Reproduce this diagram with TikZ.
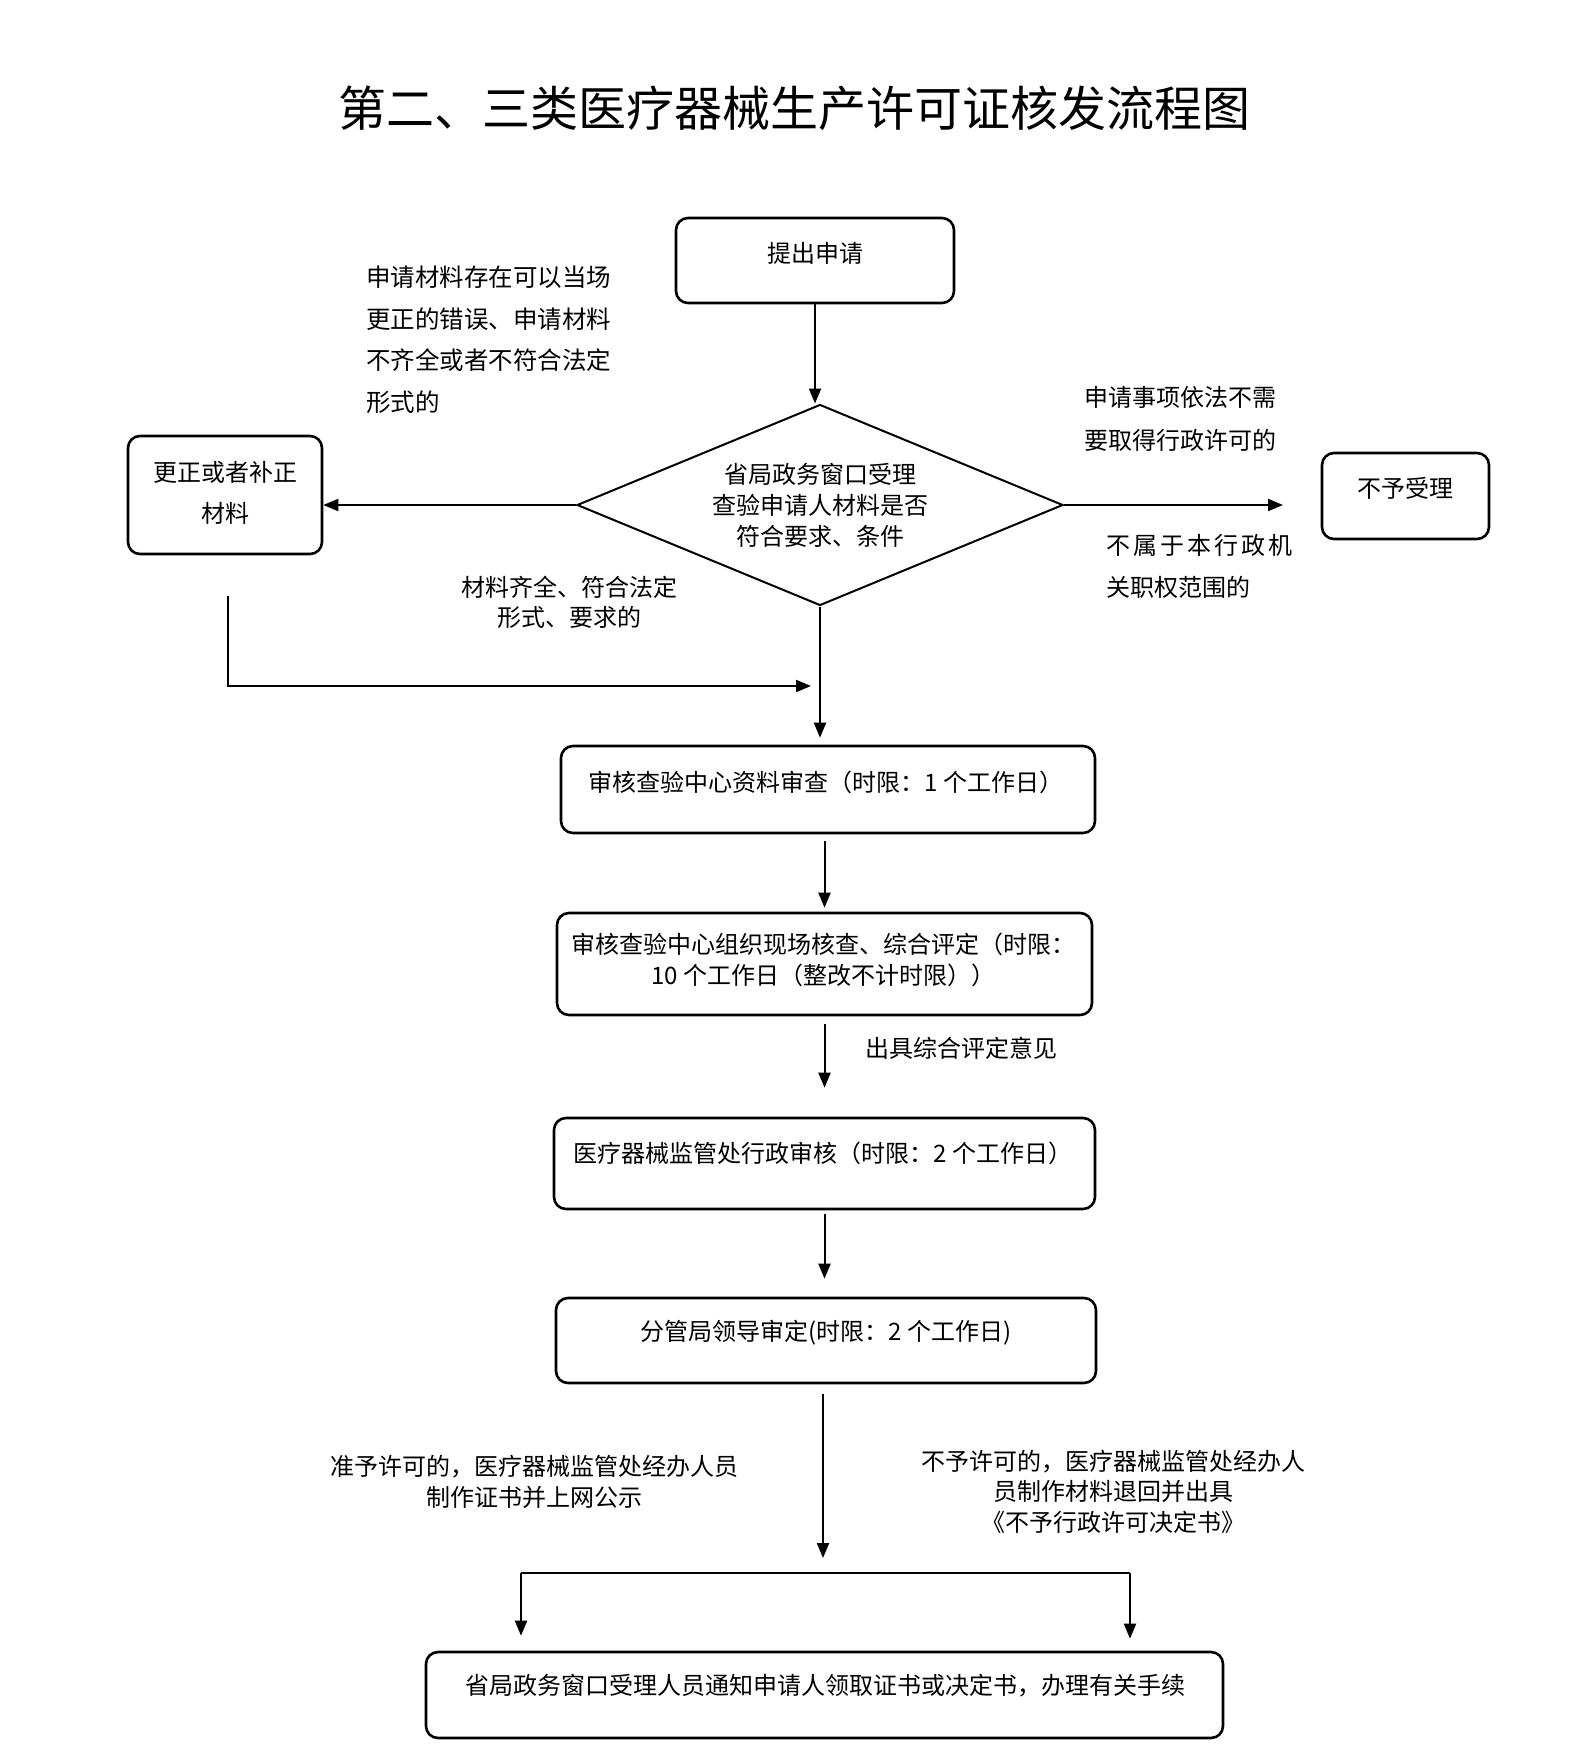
\documentclass[tikz,border=0pt]{standalone}
\usepackage{fontspec}
\setmainfont{Noto Sans CJK SC}
\usetikzlibrary{arrows.meta,shapes.geometric}
\tikzset{
  box/.style={draw, line width=2.6pt, rounded corners=12pt, inner sep=0pt},
  txt/.style={font=\fontsize{24}{31}\selectfont, align=center, inner sep=0pt},
  wtxt/.style={font=\fontsize{24.5}{41.5}\selectfont, align=left, inner sep=0pt, anchor=west},
  conn/.style={line width=2pt, -{Triangle[length=15pt,width=12pt]}},
  plainline/.style={line width=2pt}
}
\begin{document}
\begin{tikzpicture}[x=1pt,y=-1pt]
\useasboundingbox (0,0) rectangle (1587,1755);
% title
\node[inner sep=0pt, font=\fontsize{48}{56}\selectfont] (title) at (794,108) {第二、三类医疗器械生产许可证核发流程图};
% boxes
\node[box, minimum width=278pt, minimum height=85pt] (b0) at (815,260.5) {};
\node[txt] (t0) at (815,253) {提出申请};
\node[draw, line width=2pt, diamond, minimum width=486pt, minimum height=201pt, shape aspect=2.42, inner sep=0pt, font=\fontsize{24}{31}\selectfont, align=center] (d) at (820,505) {省局政务窗口受理\\查验申请人材料是否\\符合要求、条件};
\node[box, minimum width=194pt, minimum height=118pt] (corr) at (225,495) {};
\node[txt, font=\fontsize{24}{41}\selectfont] (tcorr) at (225,492.5) {更正或者补正\\材料};
\node[box, minimum width=167pt, minimum height=86pt] (nob) at (1405.5,496) {};
\node[txt] (tno) at (1405.5,488) {不予受理};
\node[box, minimum width=534pt, minimum height=87pt] (b1) at (828,789.5) {};
\node[txt] (t1) at (826,782) {审核查验中心资料审查（时限：1 个工作日）};
\node[box, minimum width=535pt, minimum height=102pt] (b2) at (824.5,964) {};
\node[txt] (t2) at (823,959.5) {审核查验中心组织现场核查、综合评定（时限：\\10 个工作日（整改不计时限））};
\node[box, minimum width=541pt, minimum height=91pt] (b3) at (824.5,1163.5) {};
\node[txt] (t3) at (823,1153) {医疗器械监管处行政审核（时限：2 个工作日）};
\node[box, minimum width=540pt, minimum height=85pt] (b4) at (826,1340.5) {};
\node[txt] (t4) at (826,1333) {分管局领导审定(时限：2 个工作日)};
\node[box, minimum width=797pt, minimum height=86pt] (b5) at (824.5,1695) {};
\node[txt] (t5) at (825,1686) {省局政务窗口受理人员通知申请人领取证书或决定书，办理有关手续};
% labels
\node[wtxt] (l1) at (366,340) {申请材料存在可以当场\\更正的错误、申请材料\\不齐全或者不符合法定\\形式的};
\node[txt, font=\fontsize{24}{30}\selectfont] (l2) at (569,602) {材料齐全、符合法定\\形式、要求的};
\node[wtxt, font=\fontsize{24}{43}\selectfont] (l3) at (1084,418.5) {申请事项依法不需\\要取得行政许可的};
\node[wtxt, font=\fontsize{24}{41.5}\selectfont] (l4) at (1106,566.5) {不\kern3pt 属\kern3pt 于\kern3pt 本\kern3pt 行\kern3pt 政\kern3pt 机\\关职权范围的};
\node[wtxt, font=\fontsize{24}{31}\selectfont] (l5) at (865,1048) {出具综合评定意见};
\node[txt] (l6) at (534,1481.5) {准予许可的，医疗器械监管处经办人员\\制作证书并上网公示};
\node[txt, font=\fontsize{24}{30.5}\selectfont] (l7) at (1113,1491.5) {不予许可的，医疗器械监管处经办人\\员制作材料退回并出具\\《不予行政许可决定书》};
% coordinates
\coordinate (rEnd) at (1283,505);
\coordinate (fbStart) at (228,596);
\coordinate (fbCorner) at (228,686);
\coordinate (fbEnd) at (811,686);
\coordinate (split) at (823,1558);
\coordinate (sl) at (521,1573);
\coordinate (sr) at (1130,1573);
% connectors
\draw[conn] (b0.south) -- (b0.south |- d.north);
\draw[conn] (d.west) -- (d.west -| corr.east);
\draw[conn] (d.east) -- (rEnd);
\draw[conn] (fbStart) -- (fbCorner) -- (fbEnd);
\draw[conn, shorten >=7pt] (d.south) -- (d.south |- b1.north);
\draw[conn, shorten <=7pt, shorten >=4pt] (b2.north |- b1.south) -- (b2.north);
\draw[conn, shorten <=8pt, shorten >=29pt] (b2.south) -- (b3.north);
\draw[conn, shorten <=4pt, shorten >=18pt] (b3.south) -- (b3.south |- b4.north);
\draw[conn, shorten <=10pt] (b4.south -| split) -- (split);
\draw[plainline] (sl) -- (sr);
\draw[conn, shorten >=15pt] (sl) -- (sl |- b5.north);
\draw[conn, shorten >=12pt] (sr) -- (sr |- b5.north);
\end{tikzpicture}
\end{document}
